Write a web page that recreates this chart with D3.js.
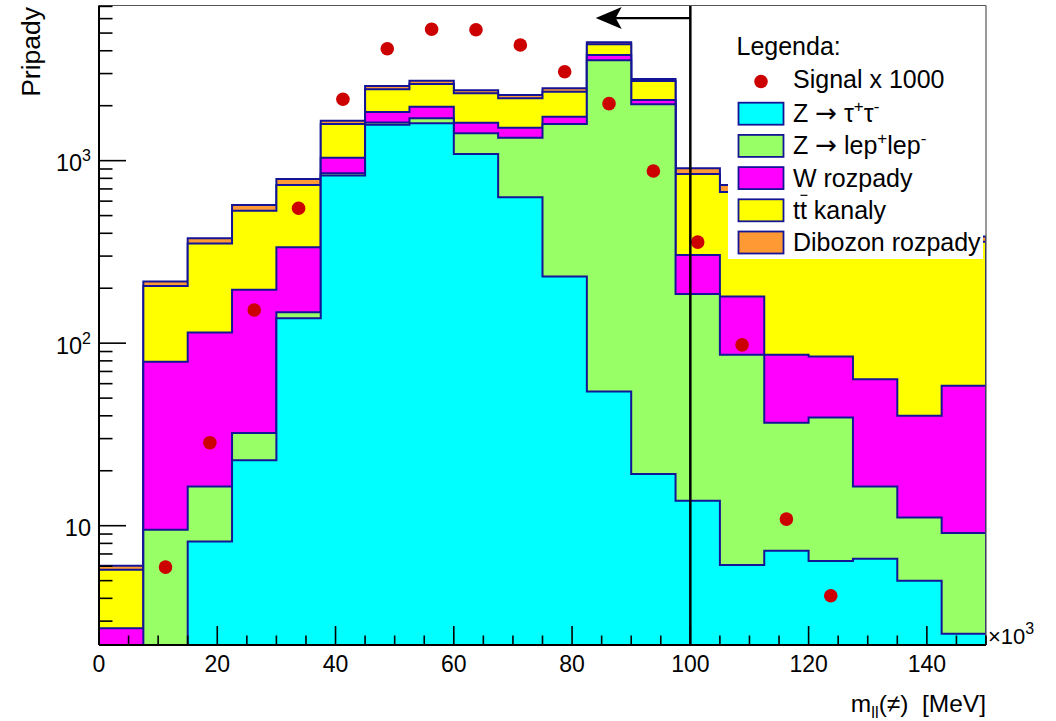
<!DOCTYPE html>
<html>
<head>
<meta charset="utf-8">
<script src="https://cdn.jsdelivr.net/npm/d3@7"></script>
<style>
  body { margin: 0; background: #fff; }
  svg { display: block; }
  text { font-family: "Liberation Sans", Arial, Helvetica, sans-serif; fill: #000; }
</style>
</head>
<body>
<svg id="chart" width="1056" height="721"></svg>
<script>
// Binning of the dilepton mass (in units of 10^3 MeV)
const binLow = [0, 7.5, 15, 22.5, 30, 37.5, 45, 52.5, 60, 67.5, 75, 82.5, 90, 97.5, 105, 112.5, 120, 127.5, 135, 142.5];
const binWidth = 7.5;

// Background samples (events per bin), stacked bottom to top
const zTauTau = [0, 0, 8.2, 22.8, 137, 830, 1575, 1603, 1088, 630, 232, 54.3, 19.2, 13.7, 6.1, 7.3, 6.4, 6.6, 5.0, 2.56];
const zLepLep = [0, 9.5, 8.2, 9.4, 10.9, 23, 44, 104, 325, 707, 1356, 3492, 2018, 172.5, 80.2, 29.4, 32.7, 9.8, 6.1, 6.55];
const wDecays = [2.74, 69.5, 97.9, 163.7, 187.6, 185.5, 229, 268, 202, 179, 154, 247, 113, 118.3, 93.7, 49.6, 45.4, 47.1, 28.9, 49.3];
const ttbar   = [3.0, 127, 236.8, 336.4, 400.5, 549.5, 612, 655, 724, 681, 645, 547, 583, 541, 494, 523, 452, 381, 352, 301.6];
const diboson = [0.3, 11.5, 24.8, 39.7, 58, 68, 105, 113, 90, 92, 105, 111, 69, 63, 62, 48, 35, 30, 26, 23.5];

// Signal (drawn scaled up)
const signal = [0, 0.00593, 0.0285, 0.152, 0.549, 2.170, 4.106, 5.243, 5.217, 4.301, 3.072, 2.052, 0.878, 0.358, 0.0979, 0.01087, 0.00413, 0, 0, 0];
const signalScale = 1000;

// Selection cut and arrow
const cutValue = 100;
const arrowTo = 84;
const arrowLevel = 6040;

// Axis labels
const xTickLabels = [0, 20, 40, 60, 80, 100, 120, 140];
const yTickValues = [10, 100, 1000];
const yTickExponents = [null, "2", "3"];

const sampleKeys = ["ztt", "zll", "w", "tt", "vv"];
const sampleNames = {
  ztt: [["Z ", null], ["\u2192", "arrow"], [" \u03c4", null], ["+", "sup"], ["\u03c4", null], ["-", "sup"]],
  zll: [["Z ", null], ["\u2192", "arrow"], [" lep", null], ["+", "sup"], ["lep", null], ["-", "sup"]],
  w: [["W rozpady", null]],
  tt: [["tt kanaly", null]],
  vv: [["Dibozon rozpady", null]]
};
const sampleColors = { ztt: "#00ffff", zll: "#99ff66", w: "#ff00ff", tt: "#ffff00", vv: "#ff9933" };
const lineColor = "#141496";
const signalColor = "#cc0000";

const rows = binLow.map((lo, i) => ({
  lo, ztt: zTauTau[i], zll: zLepLep[i], w: wDecays[i], tt: ttbar[i], vv: diboson[i]
}));
const stacked = d3.stack().keys(sampleKeys)(rows);

const svg = d3.select("#chart");
const plot = { left: 99, right: 986, top: 5.5, bottom: 645 };
const yMin = 2.22, yMax = 7080;

const x = d3.scaleLinear().domain([0, 150]).range([plot.left, plot.right]);
const y = d3.scaleLog().domain([yMin, yMax]).range([plot.bottom, plot.top]);
const yc = v => y(Math.max(v, yMin));

svg.append("defs").append("clipPath").attr("id", "plotClip")
  .append("rect")
  .attr("x", plot.left).attr("y", plot.top)
  .attr("width", plot.right - plot.left).attr("height", plot.bottom - plot.top);

const histG = svg.append("g").attr("clip-path", "url(#plotClip)");

// Step outline of a cumulative histogram
function stepPoints(tops) {
  const pts = [[x(binLow[0]), plot.bottom]];
  tops.forEach((v, i) => {
    pts.push([x(binLow[i]), yc(v)]);
    pts.push([x(binLow[i] + binWidth), yc(v)]);
  });
  pts.push([x(binLow[binLow.length - 1] + binWidth), plot.bottom]);
  return pts;
}
const line = d3.line();

// Draw the cumulative histograms from the top of the stack downwards
stacked.slice().reverse().forEach(layer => {
  const tops = layer.map(d => d[1]);
  const pts = stepPoints(tops);
  histG.append("path")
    .attr("d", line(pts) + "Z")
    .attr("fill", sampleColors[layer.key])
    .attr("stroke", "none");
  histG.append("path")
    .attr("d", line(pts))
    .attr("fill", "none")
    .attr("stroke", lineColor)
    .attr("stroke-width", 2)
    .attr("stroke-linejoin", "miter");
});

// Signal markers
histG.selectAll("circle.sig")
  .data(signal.map((s, i) => ({ c: binLow[i] + binWidth / 2, v: s * signalScale }))
    .filter(d => d.v > yMin))
  .enter().append("circle")
  .attr("class", "sig")
  .attr("cx", d => x(d.c))
  .attr("cy", d => y(d.v))
  .attr("r", 6.8)
  .attr("fill", signalColor);

// Cut line and arrow
svg.append("line")
  .attr("x1", x(cutValue)).attr("x2", x(cutValue))
  .attr("y1", plot.top).attr("y2", plot.bottom)
  .attr("stroke", "#000").attr("stroke-width", 2.5);
const ay = y(arrowLevel);
const tipX = x(arrowTo);
svg.append("line")
  .attr("x1", x(cutValue)).attr("x2", tipX + 18)
  .attr("y1", ay).attr("y2", ay)
  .attr("stroke", "#000").attr("stroke-width", 2.2);
svg.append("path")
  .attr("d", `M${tipX},${ay} L${tipX + 26},${ay - 11} L${tipX + 20},${ay} L${tipX + 26},${ay + 11} Z`)
  .attr("fill", "#000");

// Legend
const leg = svg.append("g");
leg.append("rect")
  .attr("x", 728).attr("y", 20).attr("width", 255).attr("height", 239)
  .attr("fill", "#fff");
leg.append("text").attr("x", 736.5).attr("y", 55).attr("font-size", 25).text("Legenda:");

const legTextX = 793;
const rowY0 = 81.5, rowStep = 32.2;
leg.append("circle").attr("cx", 761).attr("cy", rowY0).attr("r", 6.8).attr("fill", signalColor);
leg.append("text").attr("x", legTextX).attr("y", rowY0 + 6).attr("font-size", 25)
  .text("Signal x " + signalScale);

sampleKeys.forEach((k, i) => {
  const cy = rowY0 + rowStep * (i + 1);
  leg.append("rect")
    .attr("x", 738.5).attr("y", cy - 11).attr("width", 45).attr("height", 22)
    .attr("fill", sampleColors[k]).attr("stroke", lineColor).attr("stroke-width", 1.8);
  const t = leg.append("text").attr("x", legTextX).attr("y", cy + 8.5).attr("font-size", 25)
    .style("white-space", "pre");
  let raised = false;
  sampleNames[k].forEach(([s, kind]) => {
    const ts = t.append("tspan").text(s);
    if (kind === "sup") {
      ts.attr("font-size", 17).attr("dy", -10);
      raised = true;
    } else {
      if (raised) { ts.attr("dy", 10); raised = false; }
      if (kind === "arrow") ts.style("font-family", "'DejaVu Sans', sans-serif").attr("font-size", 26);
    }
  });
  if (k === "tt") {
    // bar over the second t
    const node = t.node();
    const x0 = legTextX + node.getSubStringLength(0, 1);
    const w = node.getSubStringLength(1, 1);
    leg.append("line")
      .attr("x1", x0 + 0.5).attr("x2", x0 + w + 0.5)
      .attr("y1", cy - 15).attr("y2", cy - 15)
      .attr("stroke", "#000").attr("stroke-width", 1.2);
  }
});

// Frame
svg.append("line").attr("x1", plot.left).attr("x2", plot.right).attr("y1", plot.top).attr("y2", plot.top)
  .attr("stroke", "#555").attr("stroke-width", 1.2);
svg.append("line").attr("x1", plot.right).attr("x2", plot.right).attr("y1", plot.top).attr("y2", plot.bottom)
  .attr("stroke", "#555").attr("stroke-width", 1.2);

// X axis
const axG = svg.append("g");
axG.append("line").attr("x1", plot.left).attr("x2", plot.right).attr("y1", plot.bottom).attr("y2", plot.bottom)
  .attr("stroke", "#000").attr("stroke-width", 2);
d3.range(0, 150.1, 5).forEach(v => {
  const major = v % 20 === 0;
  axG.append("line")
    .attr("x1", x(v)).attr("x2", x(v))
    .attr("y1", plot.bottom).attr("y2", plot.bottom - (major ? 19 : 9.5))
    .attr("stroke", "#000").attr("stroke-width", 1.6);
});
xTickLabels.forEach(v => {
  axG.append("text").attr("x", x(v)).attr("y", 672).attr("font-size", 23)
    .attr("text-anchor", "middle").text(v);
});
const xMult = axG.append("text").attr("x", 988).attr("y", 644).attr("font-size", 22);
xMult.append("tspan").text("\u00d710");
xMult.append("tspan").attr("font-size", 16).attr("dy", -10).text("3");

const xTitle = axG.append("text").attr("x", 986).attr("y", 711.5).attr("font-size", 24.5)
  .attr("text-anchor", "end").style("white-space", "pre");
xTitle.append("tspan").text("m");
xTitle.append("tspan").attr("font-size", 16.5).attr("dy", 6).text("ll");
xTitle.append("tspan").attr("dy", -6).text("(\u2260)  [MeV]");

// Y axis
axG.append("line").attr("x1", plot.left).attr("x2", plot.left).attr("y1", plot.top).attr("y2", plot.bottom)
  .attr("stroke", "#000").attr("stroke-width", 2);
[1, 10, 100, 1000].forEach(dec => {
  d3.range(1, 10).forEach(m => {
    const v = m * dec;
    if (v < yMin || v > yMax) return;
    const major = m === 1;
    axG.append("line")
      .attr("x1", plot.left).attr("x2", plot.left + (major ? 27 : 13.5))
      .attr("y1", y(v)).attr("y2", y(v))
      .attr("stroke", "#000").attr("stroke-width", 1.6);
  });
});
yTickValues.forEach((v, i) => {
  const t = axG.append("text").attr("x", 91).attr("y", y(v) + 10.5).attr("font-size", 23.5)
    .attr("text-anchor", "end");
  t.append("tspan").text("10");
  if (yTickExponents[i]) t.append("tspan").attr("font-size", 16).attr("dy", -10).text(yTickExponents[i]);
});
axG.append("text")
  .attr("transform", "translate(39.5,7) rotate(-90)")
  .attr("text-anchor", "end").attr("font-size", 26.5)
  .text("Pripady");
</script>
</body>
</html>
